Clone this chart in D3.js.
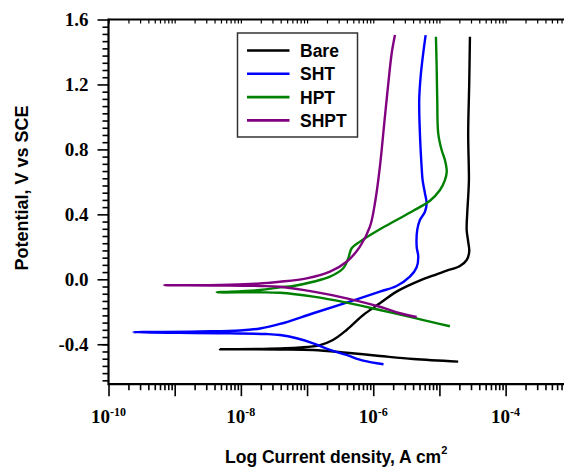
<!DOCTYPE html>
<html>
<head>
<meta charset="utf-8">
<script src="https://cdn.jsdelivr.net/npm/d3@7"></script>
<style>
  body { margin: 0; background: #fff; }
  svg { display: block; }
  .tick-label { font-family: "Liberation Serif", "Times New Roman", serif; font-weight: bold; }
  .title { font-family: "Liberation Sans", Arial, sans-serif; font-weight: bold; }
</style>
</head>
<body>
<svg width="564" height="468"></svg>
<script>
// current density (A cm-2) and potential (V vs SCE), cathodic end -> Ecorr -> anodic end
const bareI = [1.92e-5, 4.02e-6, 1.26e-6, 3.96e-7, 1.24e-7, 3.90e-8, 4.83e-9,
  1.95e-8, 7.82e-8, 1.57e-7, 2.46e-7, 3.96e-7, 7.06e-7, 1.26e-6, 2.25e-6, 4.02e-6, 7.19e-6,
  1.29e-5, 2.04e-5, 2.58e-5, 2.82e-5, 2.72e-5, 2.58e-5, 2.63e-5, 2.72e-5, 2.79e-5, 2.72e-5, 2.82e-5, 2.89e-5];
const bareE = [-0.507, -0.491, -0.472, -0.452, -0.435, -0.432, -0.431,
  -0.429, -0.420, -0.405, -0.374, -0.312, -0.220, -0.148, -0.076, -0.025, 0.016,
  0.053, 0.082, 0.119, 0.170, 0.232, 0.304, 0.406, 0.509, 0.611, 0.899, 1.207, 1.494];

const shtI = [1.43e-6, 7.06e-7, 3.96e-7, 2.22e-7, 1.24e-7, 6.97e-8, 3.90e-8, 2.45e-8, 6.84e-9, 1.91e-9, 2.37e-10,
  2.41e-9, 9.68e-9, 1.95e-8, 3.90e-8, 1.24e-7, 3.96e-7, 1.26e-6, 2.25e-6, 3.58e-6, 4.53e-6, 4.79e-6,
  4.53e-6, 4.62e-6, 5.07e-6, 6.04e-6, 6.41e-6, 6.04e-6, 5.57e-6, 5.38e-6, 5.07e-6, 4.95e-6, 5.20e-6, 5.69e-6, 6.19e-6];
const shtE = [-0.523, -0.501, -0.466, -0.435, -0.394, -0.363, -0.343, -0.337, -0.333, -0.331, -0.326,
  -0.321, -0.315, -0.303, -0.275, -0.209, -0.144, -0.076, -0.041, 0.016, 0.074, 0.139,
  0.201, 0.304, 0.365, 0.416, 0.468, 0.530, 0.611, 0.693, 0.899, 1.104, 1.248, 1.392, 1.504];

const hptI = [1.44e-5, 7.19e-6, 4.02e-6, 1.26e-6, 3.96e-7, 1.24e-7, 3.90e-8, 1.95e-8, 4.31e-9,
  1.95e-8, 3.90e-8, 6.19e-8, 1.24e-7, 2.22e-7, 3.52e-7, 4.19e-7, 4.72e-7, 6.30e-7, 1.26e-6, 2.25e-6,
  4.02e-6, 7.19e-6, 1.02e-5, 1.21e-5, 1.29e-5, 1.21e-5, 1.08e-5, 9.59e-6, 9.27e-6, 9.08e-6, 8.85e-6];
const hptE = [-0.289, -0.261, -0.236, -0.189, -0.144, -0.107, -0.083, -0.080, -0.080,
  -0.066, -0.049, -0.041, -0.015, 0.016, 0.068, 0.129, 0.191, 0.232, 0.308, 0.365,
  0.422, 0.484, 0.550, 0.611, 0.663, 0.735, 0.796, 0.899, 1.104, 1.309, 1.494];

const shptI = [4.53e-6, 2.53e-6, 1.26e-6, 3.96e-7, 1.24e-7, 3.90e-8, 1.95e-8, 4.83e-9, 6.98e-10,
  4.83e-9, 1.95e-8, 3.90e-8, 9.86e-8, 2.22e-7, 3.96e-7, 6.30e-7, 8.91e-7, 1.08e-6, 1.26e-6,
  1.50e-6, 1.69e-6, 1.90e-6, 2.13e-6];
const shptE = [-0.232, -0.209, -0.169, -0.117, -0.076, -0.046, -0.041, -0.038, -0.036,
  -0.035, -0.025, -0.015, 0.006, 0.047, 0.108, 0.201, 0.324, 0.488, 0.693,
  1.001, 1.207, 1.392, 1.504];

const seriesNames = ['Bare', 'SHT', 'HPT', 'SHPT'];
const seriesColors = ['#000000', '#0000ff', '#008000', '#800080'];
const xLabelExps = [-10, -8, -6, -4];
const yTicks = [-0.4, 0.0, 0.4, 0.8, 1.2, 1.6];

const svg = d3.select('svg');

const x = d3.scaleLog().domain([1e-10, 1e-3]).range([108.5, 571.8]);
const y = d3.scaleLinear().domain([-0.646, 1.6]).range([384.2, 19.5]);

const series = [
  { I: bareI, E: bareE },
  { I: shtI, E: shtE },
  { I: hptI, E: hptE },
  { I: shptI, E: shptE }
].map((s, i) => ({
  name: seriesNames[i],
  color: seriesColors[i],
  points: s.I.map((v, j) => [v, s.E[j]])
}));

// tick values
const decades = d3.range(-10, -2).map(e => Math.pow(10, e));
const minorX = [];
d3.range(-10, -3).forEach(e => {
  for (let k = 2; k <= 9; k++) minorX.push(k * Math.pow(10, e));
});
const minorY = [];
for (let v = -0.4; v > -0.646; v -= 0.4 / 9) minorY.push(v);
yTicks.slice(0, -1).forEach(t => {
  for (let k = 1; k < 9; k++) minorY.push(t + k * 0.4 / 9);
});

const [x0, x1] = x.range();
const [yb, yt] = y.range();

// bottom axis
svg.append('g')
  .attr('transform', `translate(0,${yb})`)
  .call(d3.axisBottom(x).tickValues(decades).tickSize(12).tickFormat(''))
  .call(g => g.select('.domain').remove())
  .call(g => g.selectAll('line').attr('stroke-width', 1.6));
svg.append('g')
  .attr('transform', `translate(0,${yb})`)
  .call(d3.axisBottom(x).tickValues(minorX).tickSize(6).tickFormat(''))
  .call(g => g.select('.domain').remove())
  .call(g => g.selectAll('line').attr('stroke-width', 1.6));

// top axis, inward ticks
svg.append('g')
  .attr('transform', `translate(0,${yt})`)
  .call(d3.axisBottom(x).tickValues(decades.concat(minorX)).tickSize(4).tickFormat(''))
  .call(g => g.select('.domain').remove())
  .call(g => g.selectAll('line').attr('stroke-width', 1.2));

// left axis
svg.append('g')
  .attr('transform', `translate(${x0},0)`)
  .call(d3.axisLeft(y).tickValues(yTicks).tickSize(11).tickPadding(9).tickFormat(d => d.toFixed(1)))
  .call(g => g.select('.domain').remove())
  .call(g => g.selectAll('line').attr('stroke-width', 1.6))
  .call(g => g.selectAll('text')
    .attr('class', 'tick-label')
    .attr('font-size', 19)
    .attr('fill', '#000')
    .attr('dy', '0.34em'));
svg.append('g')
  .attr('transform', `translate(${x0},0)`)
  .call(d3.axisLeft(y).tickValues(minorY).tickSize(6).tickFormat(''))
  .call(g => g.select('.domain').remove())
  .call(g => g.selectAll('line').attr('stroke-width', 1.6));

// frame lines
svg.append('line').attr('x1', x0).attr('x2', x1).attr('y1', yb).attr('y2', yb)
  .attr('stroke', '#000').attr('stroke-width', 2.2);
svg.append('line').attr('x1', x0).attr('x2', x0).attr('y1', yt - 1).attr('y2', yb + 1)
  .attr('stroke', '#000').attr('stroke-width', 2.2);
svg.append('line').attr('x1', x0).attr('x2', x1).attr('y1', yt).attr('y2', yt)
  .attr('stroke', '#000').attr('stroke-width', 1.8);

// x tick labels with superscripts
const xl = svg.append('g').selectAll('text')
  .data(xLabelExps)
  .enter().append('text')
    .attr('class', 'tick-label')
    .attr('x', d => x(Math.pow(10, d)))
    .attr('y', 423)
    .attr('text-anchor', 'middle')
    .attr('font-size', 19);
xl.append('tspan').text('10');
xl.append('tspan')
  .attr('font-size', 12)
  .attr('dy', -7)
  .text(d => '-' + Math.abs(d));

// curves
const line = d3.line()
  .x(d => x(d[0]))
  .y(d => y(d[1]))
  .curve(d3.curveCatmullRom.alpha(0.5));

svg.append('g').selectAll('path')
  .data(series)
  .enter().append('path')
    .attr('d', d => line(d.points))
    .attr('fill', 'none')
    .attr('stroke', d => d.color)
    .attr('stroke-width', 2.4)
    .attr('stroke-linejoin', 'round');

// axis titles
const xt = svg.append('text')
  .attr('class', 'title')
  .attr('x', 225)
  .attr('y', 463)
  .attr('font-size', 17.5);
xt.append('tspan').text('Log Current density, A cm');
xt.append('tspan').attr('font-size', 11).attr('dy', -9).text('2');

svg.append('text')
  .attr('class', 'title')
  .attr('transform', 'translate(28,188) rotate(-90)')
  .attr('text-anchor', 'middle')
  .attr('font-size', 18)
  .text('Potential, V vs SCE');

// legend
const legend = svg.append('g');
legend.append('rect')
  .attr('x', 237.5).attr('y', 33)
  .attr('width', 120).attr('height', 104)
  .attr('fill', '#fff')
  .attr('stroke', '#333')
  .attr('stroke-width', 1.5);

const item = legend.selectAll('.item')
  .data(series)
  .enter().append('g')
    .attr('class', 'item')
    .attr('transform', (d, i) => `translate(0,${50.5 + i * 23.3})`);
item.append('line')
  .attr('x1', 247).attr('x2', 289.5)
  .attr('stroke', d => d.color)
  .attr('stroke-width', 2.6);
item.append('text')
  .attr('class', 'title')
  .attr('x', 300)
  .attr('y', 6.5)
  .attr('font-size', 17.5)
  .text(d => d.name);
</script>
</body>
</html>
